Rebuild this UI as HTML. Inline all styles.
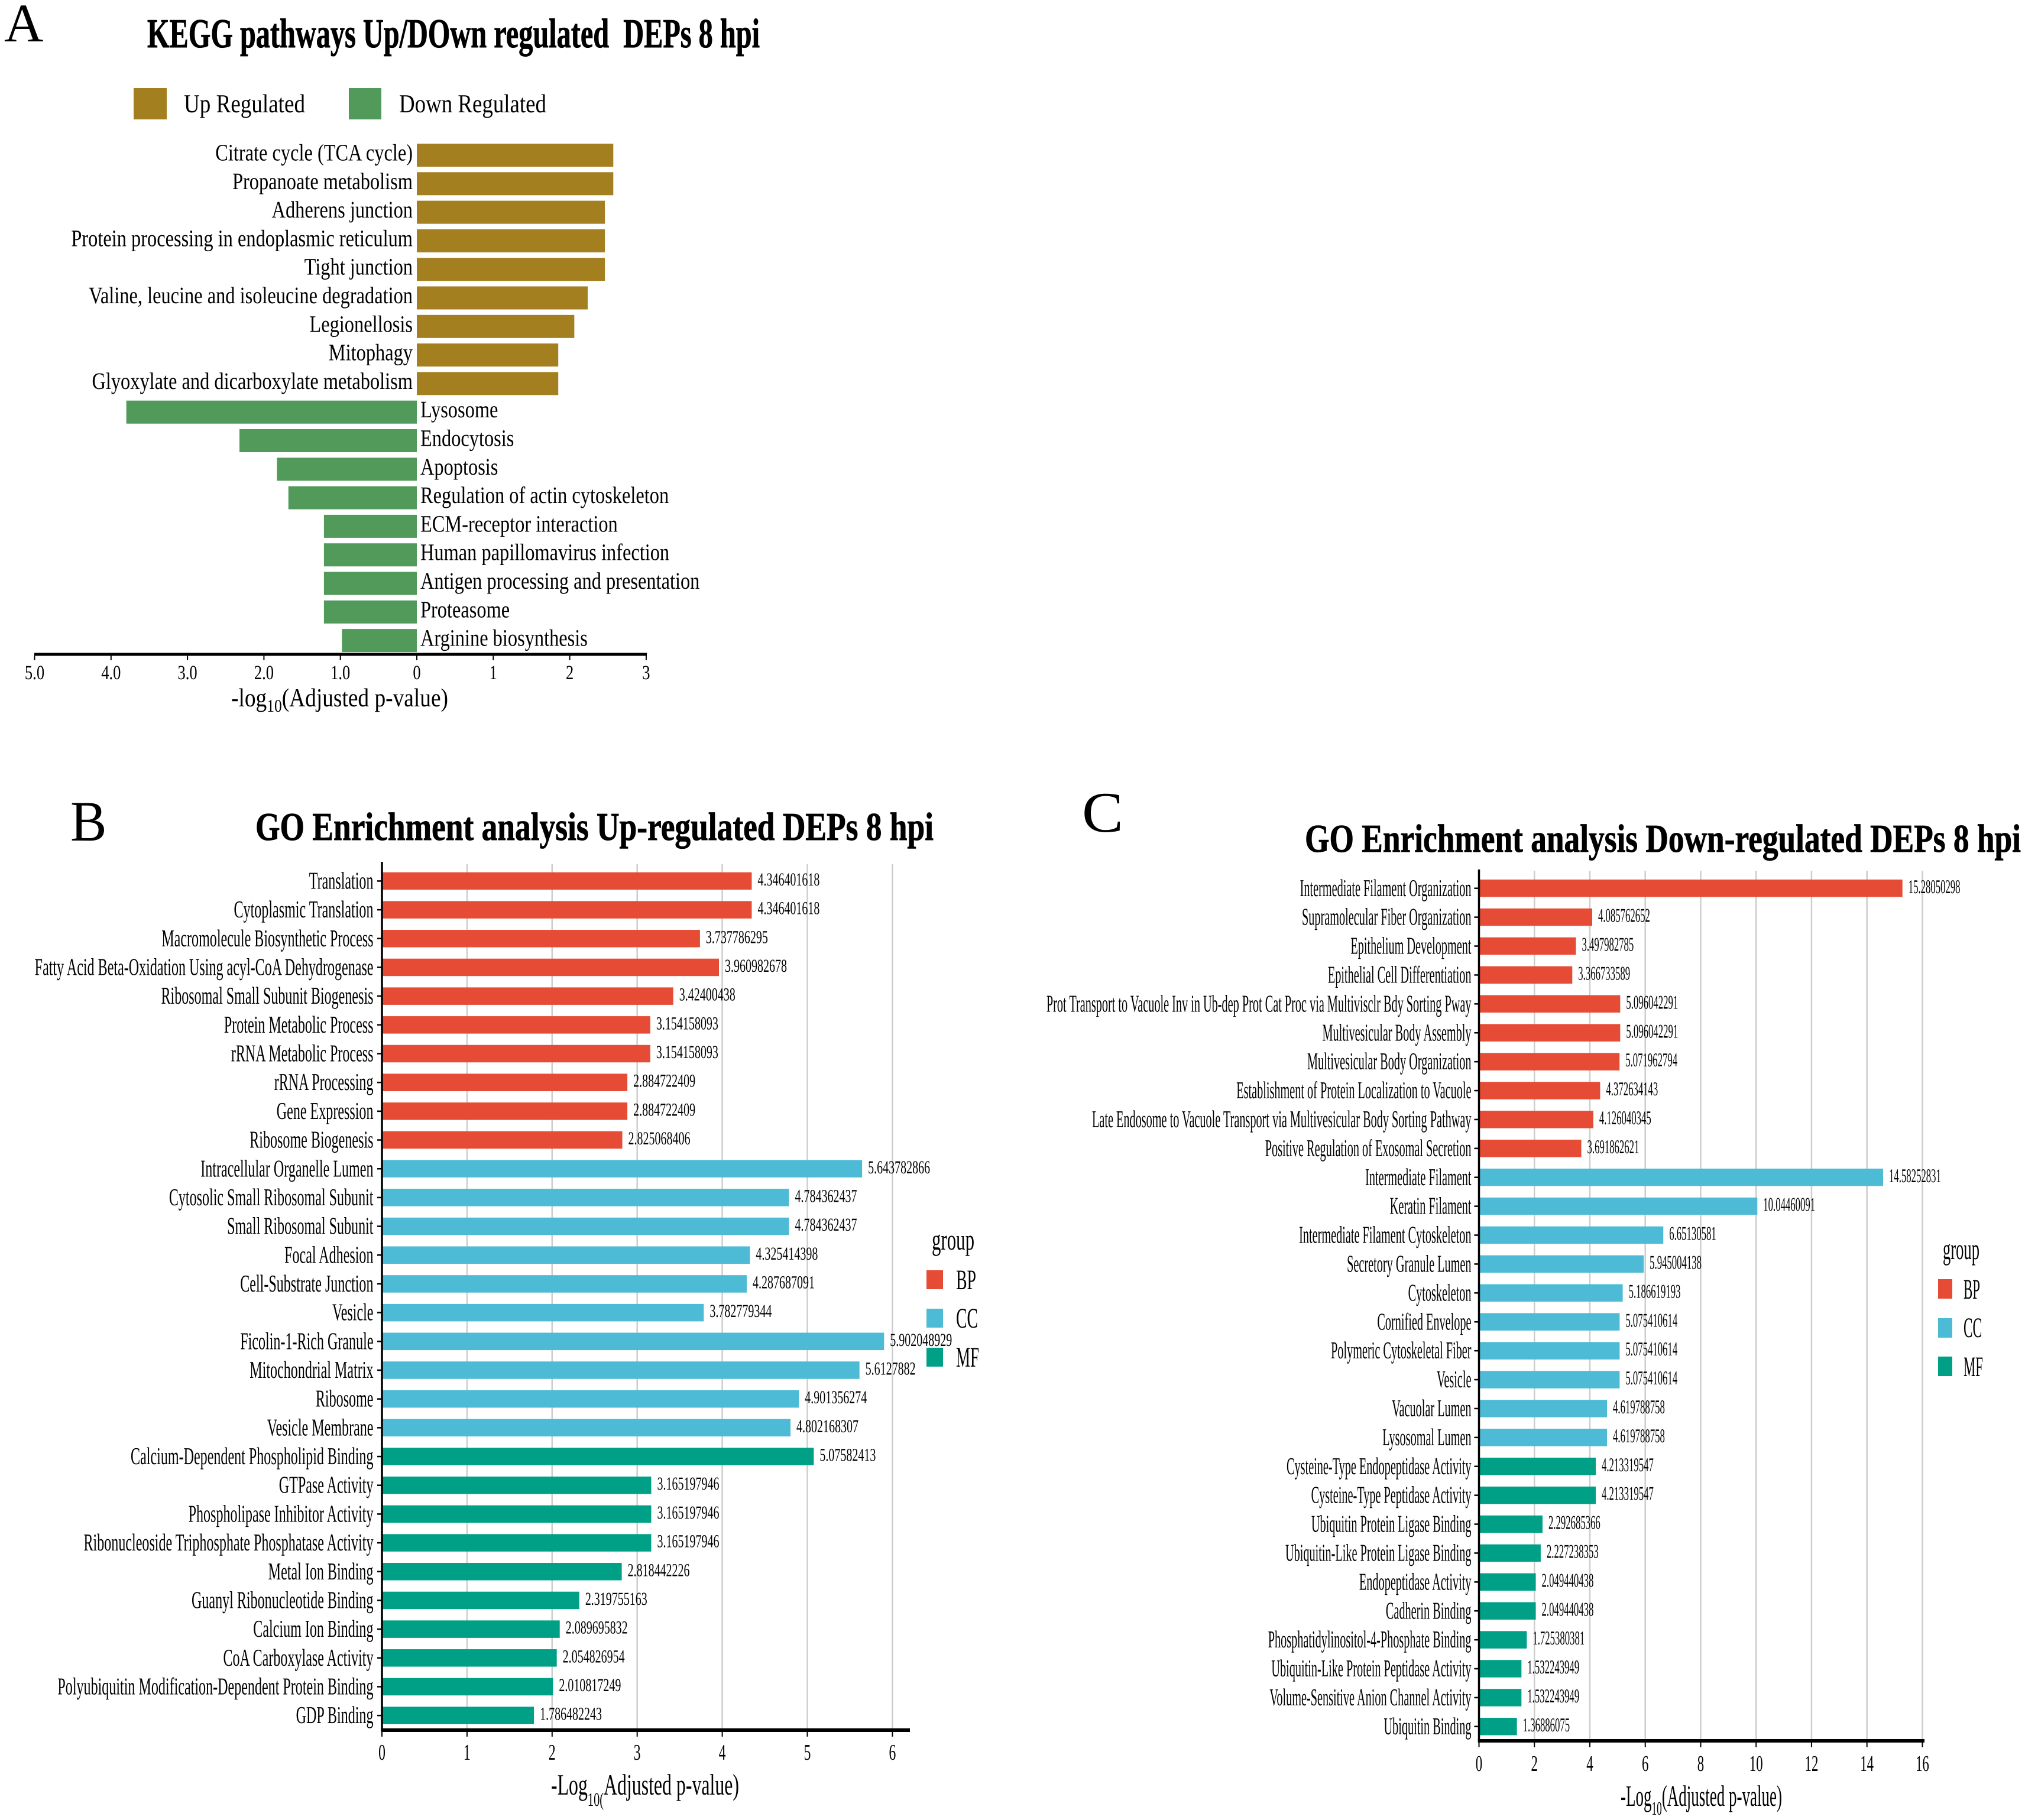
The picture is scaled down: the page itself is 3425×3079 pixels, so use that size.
<!DOCTYPE html>
<html>
<head>
<meta charset="utf-8">
<title>KEGG and GO enrichment panels</title>
<style>
html,body{margin:0;padding:0;background:#fff;}
svg{display:block;}
text{font-family:"Liberation Serif",serif;fill:#000;text-rendering:geometricPrecision;}
.heavy{stroke:#000;stroke-width:0.9;}
</style>
</head>
<body>
<svg id="figure" xmlns="http://www.w3.org/2000/svg" width="3425" height="3079" viewBox="0 0 3425 3079">
<rect x="0" y="0" width="3425" height="3079" fill="#ffffff"/>

<text x="7" y="70" font-size="92">A</text>
<text class="heavy" x="249" y="80" font-size="70" font-weight="700" textLength="1036" lengthAdjust="spacingAndGlyphs" xml:space="preserve">KEGG pathways Up/DOwn regulated  DEPs 8 hpi</text>
<rect x="226" y="149" width="56" height="53" fill="#a47f20"/>
<text x="311" y="190" font-size="44" textLength="205" lengthAdjust="spacingAndGlyphs">Up Regulated</text>
<rect x="590" y="149" width="55" height="53" fill="#519a5a"/>
<text x="675" y="190" font-size="44" textLength="249" lengthAdjust="spacingAndGlyphs">Down Regulated</text>
<text x="391" y="1195" font-size="44" textLength="367" lengthAdjust="spacingAndGlyphs">-log<tspan dy="9" font-size="30">10</tspan><tspan dy="-9">(Adjusted p-value)</tspan></text>

<text x="119" y="1422" font-size="97" transform="translate(119 0) scale(0.95 1) translate(-119 0)">B</text>
<text class="heavy" x="432" y="1421" font-size="67" font-weight="700" textLength="1147" lengthAdjust="spacingAndGlyphs">GO Enrichment analysis Up-regulated DEPs 8 hpi</text>
<text x="932" y="3036" font-size="50" textLength="318" lengthAdjust="spacingAndGlyphs">-Log<tspan dy="19" font-size="32">10(</tspan><tspan dy="-19">Adjusted p-value)</tspan></text>
<text x="1576" y="2114" font-size="50" textLength="72" lengthAdjust="spacingAndGlyphs">group</text>
<rect x="1567" y="2149" width="28" height="32" fill="#e64b35"/>
<text x="1617" y="2181" font-size="48" textLength="34" lengthAdjust="spacingAndGlyphs">BP</text>
<rect x="1567" y="2214" width="28" height="32" fill="#4dbbd5"/>
<text x="1617" y="2246" font-size="48" textLength="37" lengthAdjust="spacingAndGlyphs">CC</text>
<rect x="1567" y="2280" width="28" height="32" fill="#00a087"/>
<text x="1617" y="2312" font-size="48" textLength="39" lengthAdjust="spacingAndGlyphs">MF</text>

<text x="1830" y="1407" font-size="97" transform="translate(1830 0) scale(1.08 1) translate(-1830 0)">C</text>
<text class="heavy" x="2207" y="1441" font-size="67" font-weight="700" textLength="1211" lengthAdjust="spacingAndGlyphs">GO Enrichment analysis Down-regulated DEPs 8 hpi</text>
<text x="2741" y="3055" font-size="50" textLength="273" lengthAdjust="spacingAndGlyphs">-Log<tspan dy="15" font-size="32">10</tspan><tspan dy="-15">(Adjusted p-value)</tspan></text>
<text x="3286" y="2130" font-size="50" textLength="62" lengthAdjust="spacingAndGlyphs">group</text>
<rect x="3278" y="2164" width="24" height="33" fill="#e64b35"/>
<text x="3321" y="2197" font-size="48" textLength="28" lengthAdjust="spacingAndGlyphs">BP</text>
<rect x="3278" y="2230" width="24" height="33" fill="#4dbbd5"/>
<text x="3321" y="2262" font-size="48" textLength="31" lengthAdjust="spacingAndGlyphs">CC</text>
<rect x="3278" y="2295" width="24" height="33" fill="#00a087"/>
<text x="3321" y="2328" font-size="48" textLength="33" lengthAdjust="spacingAndGlyphs">MF</text>
</svg>

<script>
const keggUpCategories = ["Citrate cycle (TCA cycle)","Propanoate metabolism","Adherens junction","Protein processing in endoplasmic reticulum","Tight junction","Valine, leucine and isoleucine degradation","Legionellosis","Mitophagy","Glyoxylate and dicarboxylate metabolism"];
const keggUpValues = [2.57,2.57,2.46,2.46,2.46,2.235,2.06,1.85,1.85];
const keggDownCategories = ["Lysosome","Endocytosis","Apoptosis","Regulation of actin cytoskeleton","ECM-receptor interaction","Human papillomavirus infection","Antigen processing and presentation","Proteasome","Arginine biosynthesis"];
const keggDownValues = [3.80,2.32,1.83,1.68,1.215,1.215,1.215,1.215,0.98];
const keggLeftTicks = [5,4,3,2,1];
const keggLeftTickLabels = ["5.0","4.0","3.0","2.0","1.0"];
const keggRightTicks = [0,1,2,3];

const goUpCategories = ["Translation","Cytoplasmic Translation","Macromolecule Biosynthetic Process","Fatty Acid Beta-Oxidation Using acyl-CoA Dehydrogenase","Ribosomal Small Subunit Biogenesis","Protein Metabolic Process","rRNA Metabolic Process","rRNA Processing","Gene Expression","Ribosome Biogenesis","Intracellular Organelle Lumen","Cytosolic Small Ribosomal Subunit","Small Ribosomal Subunit","Focal Adhesion","Cell-Substrate Junction","Vesicle","Ficolin-1-Rich Granule","Mitochondrial Matrix","Ribosome","Vesicle Membrane","Calcium-Dependent Phospholipid Binding","GTPase Activity","Phospholipase Inhibitor Activity","Ribonucleoside Triphosphate Phosphatase Activity","Metal Ion Binding","Guanyl Ribonucleotide Binding","Calcium Ion Binding","CoA Carboxylase Activity","Polyubiquitin Modification-Dependent Protein Binding","GDP Binding"];
const goUpValues = [4.346401618,4.346401618,3.737786295,3.960982678,3.42400438,3.154158093,3.154158093,2.884722409,2.884722409,2.825068406,5.643782866,4.784362437,4.784362437,4.325414398,4.287687091,3.782779344,5.902048929,5.6127882,4.901356274,4.802168307,5.07582413,3.165197946,3.165197946,3.165197946,2.818442226,2.319755163,2.089695832,2.054826954,2.010817249,1.786482243];
const goUpGroups = ["BP","BP","BP","BP","BP","BP","BP","BP","BP","BP","CC","CC","CC","CC","CC","CC","CC","CC","CC","CC","MF","MF","MF","MF","MF","MF","MF","MF","MF","MF"];
const goUpTicks = [0,1,2,3,4,5,6];

const goDownCategories = ["Intermediate Filament Organization","Supramolecular Fiber Organization","Epithelium Development","Epithelial Cell Differentiation","Prot Transport to Vacuole Inv in Ub-dep Prot Cat Proc via Multivisclr Bdy Sorting Pway","Multivesicular Body Assembly","Multivesicular Body Organization","Establishment of Protein Localization to Vacuole","Late Endosome to Vacuole Transport via Multivesicular Body Sorting Pathway","Positive Regulation of Exosomal Secretion","Intermediate Filament","Keratin Filament","Intermediate Filament Cytoskeleton","Secretory Granule Lumen","Cytoskeleton","Cornified Envelope","Polymeric Cytoskeletal Fiber","Vesicle","Vacuolar Lumen","Lysosomal Lumen","Cysteine-Type Endopeptidase Activity","Cysteine-Type Peptidase Activity","Ubiquitin Protein Ligase Binding","Ubiquitin-Like Protein Ligase Binding","Endopeptidase Activity","Cadherin Binding","Phosphatidylinositol-4-Phosphate Binding","Ubiquitin-Like Protein Peptidase Activity","Volume-Sensitive Anion Channel Activity","Ubiquitin Binding"];
const goDownValues = [15.28050298,4.085762652,3.497982785,3.366733589,5.096042291,5.096042291,5.071962794,4.372634143,4.126040345,3.691862621,14.58252831,10.04460091,6.65130581,5.945004138,5.186619193,5.075410614,5.075410614,5.075410614,4.619788758,4.619788758,4.213319547,4.213319547,2.292685366,2.227238353,2.049440438,2.049440438,1.725380381,1.532243949,1.532243949,1.36886075];
const goDownGroups = ["BP","BP","BP","BP","BP","BP","BP","BP","BP","BP","CC","CC","CC","CC","CC","CC","CC","CC","CC","CC","MF","MF","MF","MF","MF","MF","MF","MF","MF","MF"];
const goDownTicks = [0,2,4,6,8,10,12,14,16];

const groupColors = {BP:"#e64b35",CC:"#4dbbd5",MF:"#00a087"};
const figure = document.getElementById('figure');
const NS = 'http://www.w3.org/2000/svg';

function addRect(x,y,w,h,fill){
  const r = document.createElementNS(NS,'rect');
  r.setAttribute('x',x);
  r.setAttribute('y',y);
  r.setAttribute('width',w);
  r.setAttribute('height',h);
  r.setAttribute('fill',fill);
  figure.appendChild(r);
  return r;
}
function addLabel(str,x,y,size,scale,anchor){
  const t = document.createElementNS(NS,'text');
  t.textContent = str;
  t.setAttribute('font-size',size);
  t.setAttribute('text-anchor',anchor);
  t.setAttribute('transform','translate('+x+' '+y+') scale('+scale+' 1)');
  figure.appendChild(t);
  return t;
}

/* Panel A */
function keggX(v){ return 705 + 129.3*v; }
function keggY(i){ return 243 + 48.3*i; }
const keggBarH = 39;
keggUpValues.forEach(function(v,i){
  const bar = addRect(keggX(0),keggY(i),keggX(v)-keggX(0),keggBarH,'#a47f20');
  
  
  const lab = addLabel(keggUpCategories[i],698,keggY(i)+28.5,40,0.81,'end');
  
  
});
keggDownValues.forEach(function(v,i){
  const row = i + keggUpValues.length;
  const bar = addRect(keggX(-v),keggY(row),keggX(0)-keggX(-v),keggBarH,'#519a5a');
  
  
  const lab = addLabel(keggDownCategories[i],711,keggY(row)+28.5,40,0.81,'start');
  
  
});
const keggAxis = addRect(58,1104.5,1036,5,'#000');


keggLeftTicks.forEach(function(v,i){
  const tick = addRect(keggX(-v)-1,1109,2,8,'#000');
  
  
  const lab = addLabel(keggLeftTickLabels[i],keggX(-v),1149,34,0.78,'middle');
  
  
});
keggRightTicks.forEach(function(v){
  const tick = addRect(keggX(v)-1,1109,2,8,'#000');
  
  
  const lab = addLabel(String(v),keggX(v),1149,34,0.78,'middle');
  
  
});

/* Panels B and C */
function drawEnrichment(o){
  function x(v){ return o.zero + o.unit*v; }
  function y(i){ return o.top + o.pitch*i; }
  const barH = 29.5;
  o.ticks.forEach(function(v){
    if(v===0){ return; }
    const g = addRect(x(v)-1.25,o.gridTop,2.5,o.axisY-o.gridTop,'#cdcdcd');
    
    
  });
  o.values.forEach(function(v,i){
    const cy = y(i)+barH/2;
    const bar = addRect(x(0),y(i),x(v)-x(0),barH,groupColors[o.groups[i]]);
    
    
    const val = addLabel(String(v),x(v)+10,cy+o.valueDy,o.valueSize,o.valueScale,'start');
    
    
    const tick = addRect(x(0)-8,cy-1.25,8,2.5,'#000');
    
    
    const lab = addLabel(o.categories[i],x(0)-o.catGap,cy+13,41,o.catScale,'end');
    
    
  });
  const yAxis = addRect(x(0)-1.75,o.axisTop,3.5,o.axisY-o.axisTop,'#000');
  
  
  const xAxis = addRect(x(0)-1.75,o.axisY-3,o.axisEnd-x(0)+1.75,6,'#000');
  
  
  o.ticks.forEach(function(v){
    const tick = addRect(x(v)-1,o.axisY,2,11,'#000');
    
    
    const lab = addLabel(String(v),x(v),o.tickBase,38,o.tickScale,'middle');
    
    
  });
}
drawEnrichment({categories:goUpCategories,values:goUpValues,groups:goUpGroups,ticks:goUpTicks,zero:646,unit:143.9,top:1475.7,pitch:48.68,gridTop:1462,axisTop:1458,axisY:2927,axisEnd:1539,tickBase:2977,valueDy:7.5,valueSize:31,valueScale:0.645,catGap:14.5,catScale:0.587,tickScale:0.62});
drawEnrichment({categories:goDownCategories,values:goDownValues,groups:goDownGroups,ticks:goDownTicks,zero:2501.5,unit:46.87,top:1488,pitch:48.9,gridTop:1473,axisTop:1471,axisY:2945,axisEnd:3255,tickBase:2996,valueDy:8,valueSize:33,valueScale:0.507,catGap:13,catScale:0.494,tickScale:0.6});
</script>
</body>
</html>
